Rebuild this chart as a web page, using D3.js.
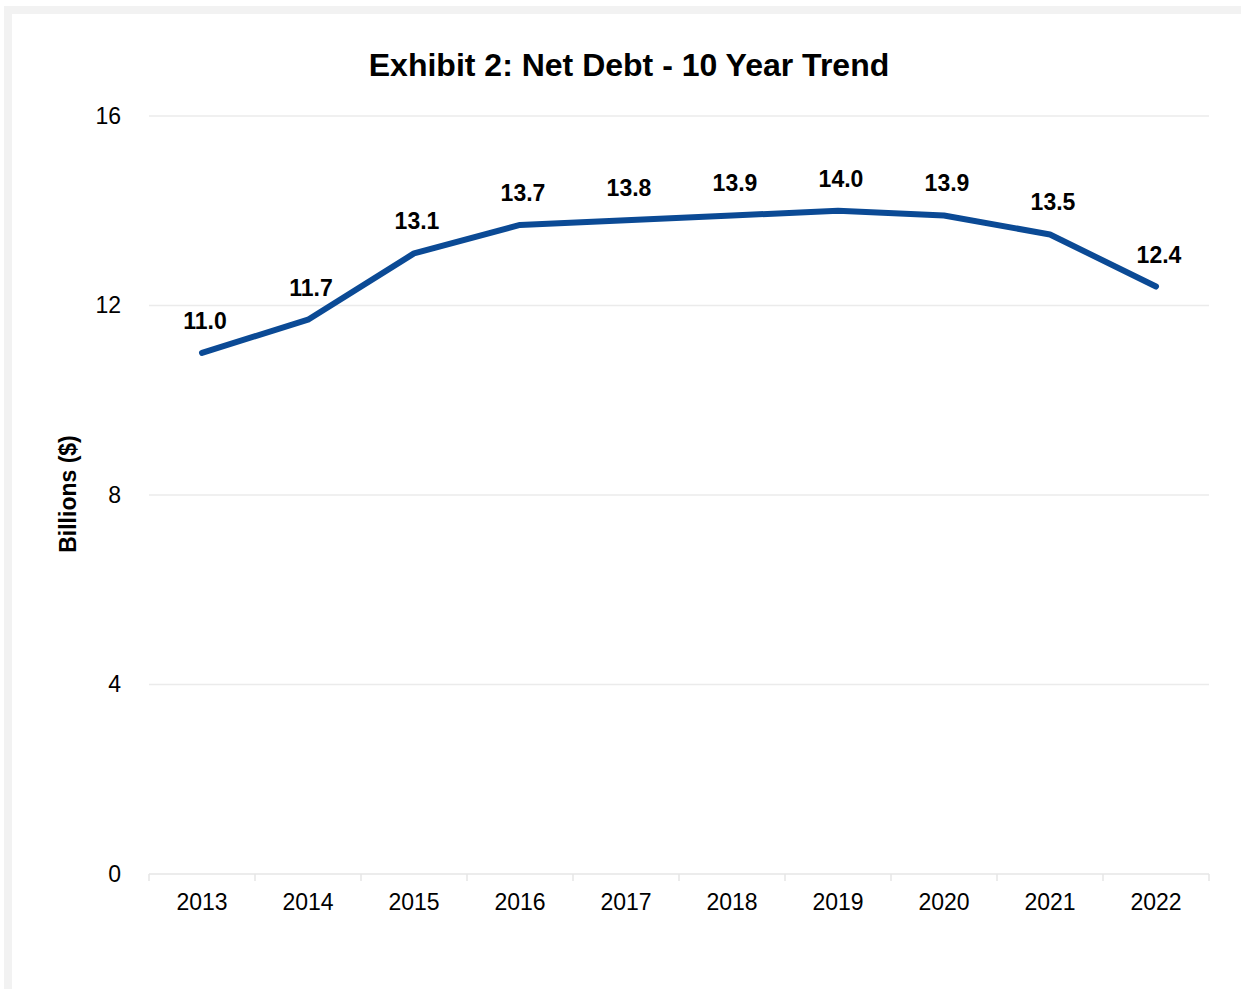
<!DOCTYPE html>
<html>
<head>
<meta charset="utf-8">
<script src="https://cdn.jsdelivr.net/npm/d3@7"></script>
<style>
  html, body { margin: 0; padding: 0; background: #ffffff; }
  svg { display: block; font-family: "Liberation Sans", Arial, sans-serif; }
</style>
</head>
<body>
<svg id="chart" width="1241" height="989"></svg>
<script>
// Net debt, billions of dollars, by fiscal year
const years = ["2013", "2014", "2015", "2016", "2017", "2018", "2019", "2020", "2021", "2022"];
const netDebt = [11.0, 11.7, 13.1, 13.7, 13.8, 13.9, 14.0, 13.9, 13.5, 12.4];
const yTicks = [0, 4, 8, 12, 16];

const svg = d3.select("#chart");

// light grey card frame
svg.append("rect").attr("x", 4).attr("y", 6).attr("width", 1237).attr("height", 983).attr("fill", "#f2f2f2");
svg.append("rect").attr("x", 12).attr("y", 14).attr("width", 1229).attr("height", 975).attr("fill", "#ffffff");

const plot = { left: 149, right: 1209, top: 116, bottom: 874 };

const x = d3.scaleBand().domain(years).range([plot.left, plot.right]).padding(0);
const y = d3.scaleLinear().domain([0, 16]).range([plot.bottom, plot.top]);

// horizontal gridlines
svg.append("g")
  .selectAll("line")
  .data(yTicks.filter(t => t > 0))
  .join("line")
  .attr("x1", plot.left).attr("x2", plot.right)
  .attr("y1", d => y(d)).attr("y2", d => y(d))
  .attr("stroke", "#ebebeb").attr("stroke-width", 1.5);

// y axis labels
const yAxis = svg.append("g")
  .attr("transform", `translate(${plot.left - 28},0)`)
  .call(d3.axisLeft(y).tickValues(yTicks).tickSize(0).tickPadding(0));
yAxis.select(".domain").remove();
yAxis.selectAll("text")
  .attr("font-family", "Liberation Sans, Arial, sans-serif")
  .attr("font-size", 23).attr("fill", "#000");

// x axis with ticks at category boundaries
const xAxis = svg.append("g").attr("transform", `translate(0,${plot.bottom})`);
xAxis.append("line")
  .attr("x1", plot.left).attr("x2", plot.right)
  .attr("stroke", "#e6e6e6").attr("stroke-width", 1.5);
const bounds = years.map(d => x(d)).concat([x(years[years.length - 1]) + x.bandwidth()]);
xAxis.selectAll("line.tick")
  .data(bounds)
  .join("line").attr("class", "tick")
  .attr("x1", d => d).attr("x2", d => d)
  .attr("y1", 0).attr("y2", 7)
  .attr("stroke", "#e6e6e6").attr("stroke-width", 1.5);
xAxis.selectAll("text")
  .data(years)
  .join("text")
  .attr("x", d => x(d) + x.bandwidth() / 2)
  .attr("y", 36)
  .attr("text-anchor", "middle")
  .attr("font-size", 23).attr("fill", "#000")
  .text(d => d);

// y axis title
svg.append("text")
  .attr("transform", "translate(76,494) rotate(-90)")
  .attr("text-anchor", "middle")
  .attr("font-size", 23).attr("font-weight", "bold").attr("fill", "#000")
  .text("Billions ($)");

// chart title
svg.append("text")
  .attr("x", 629).attr("y", 76)
  .attr("text-anchor", "middle")
  .attr("font-size", 32).attr("font-weight", "bold").attr("fill", "#000")
  .text("Exhibit 2: Net Debt - 10 Year Trend");

const data = years.map((yr, i) => ({ yr, v: netDebt[i] }));

// trend line
const line = d3.line()
  .x(d => x(d.yr) + x.bandwidth() / 2)
  .y(d => y(d.v));
svg.append("path")
  .datum(data)
  .attr("d", line)
  .attr("fill", "none")
  .attr("stroke", "#0b4a95")
  .attr("stroke-width", 6)
  .attr("stroke-linecap", "round")
  .attr("stroke-linejoin", "round");

// value labels
svg.append("g")
  .selectAll("text")
  .data(data)
  .join("text")
  .attr("x", d => x(d.yr) + x.bandwidth() / 2 + 3)
  .attr("y", d => y(d.v) - 24)
  .attr("text-anchor", "middle")
  .attr("font-size", 23).attr("font-weight", "bold").attr("fill", "#000")
  .text(d => d.v.toFixed(1));
</script>
</body>
</html>
